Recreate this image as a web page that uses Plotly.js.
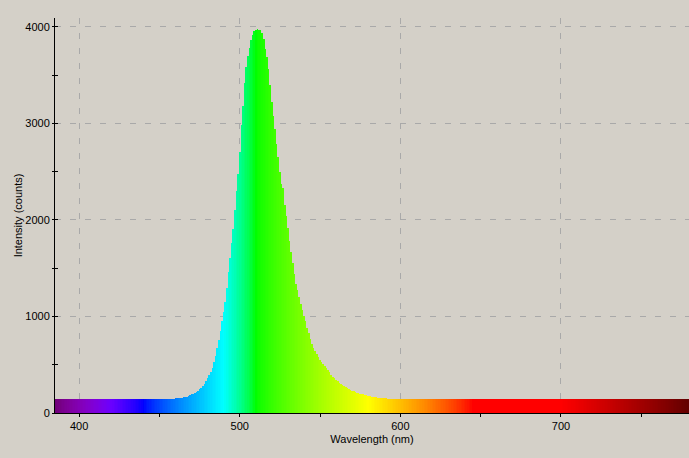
<!DOCTYPE html>
<html>
<head>
<meta charset="utf-8">
<script src="https://cdn.plot.ly/plotly-3.0.1.min.js"></script>
<style>
html,body{margin:0;padding:0;background:#d4d0c8;}
#chart{width:689px;height:458px;}
</style>
</head>
<body>
<div id="chart"></div>
<script>
// Spectrum sampled every 1 nm starting at 385 nm
var startNm = 385;
var stepNm = 1;
var counts = [
  // 385-394
  145,146,144,145,147,145,144,146,145,143,
  // 395-404
  146,145,147,144,145,146,145,143,146,145,
  // 405-414
  144,146,145,147,145,144,145,146,144,145,
  // 415-424
  146,145,144,146,145,147,145,144,146,145,
  // 425-434
  145,144,146,145,143,146,145,147,145,144,
  // 435-444
  146,145,144,145,147,145,146,144,145,146,
  // 445-454
  145,147,144,146,145,145,146,144,147,146,
  // 455-460
  147,148,148,149,150,151,
  // 461-470
  152,153,155,158,162,166,171,177,184,192,
  // 471-480
  201,210,219,230,244,260,281,305,333,362,
  // 481-490
  395,428,470,530,595,670,760,850,950,1050,
  // 491-500
  1150,1300,1460,1610,1760,1910,2100,2300,2480,2700,
  // 501-510
  2980,3180,3420,3590,3700,3780,3860,3920,3955,3970,
  // 511-520
  3975,3972,3968,3940,3880,3770,3690,3560,3400,3220,
  // 521-530
  3080,2940,2790,2650,2500,2370,2330,2160,2040,1920,
  // 531-540
  1780,1670,1550,1440,1340,1270,1200,1130,1070,1000,
  // 541-550
  950,880,830,770,720,670,640,615,580,550,
  // 551-560
  528,505,485,466,442,420,395,373,360,345,
  // 561-570
  328,315,302,290,278,265,255,246,238,230,
  // 571-580
  224,218,212,207,202,198,194,188,183,178,
  // 581-590
  174,170,167,164,162,160,158,156,154,152,
  // 591-600
  151,150,149,149,148,148,147,147,146,146,
  // 601-610
  145,146,145,144,146,145,147,145,144,146,
  // 611-620
  145,144,146,145,145,147,144,146,145,143,
  // 621-630
  146,145,144,147,145,146,145,144,146,145,
  // 631-640
  144,146,145,145,147,145,144,146,143,145,
  // 641-650
  146,145,144,146,145,147,145,144,145,146,
  // 651-660
  145,143,146,145,147,145,144,146,145,144,
  // 661-670
  146,145,145,147,144,146,145,143,146,145,
  // 671-680
  144,146,145,147,145,144,146,145,145,146,
  // 681-690
  145,147,144,146,145,143,146,145,144,146,
  // 691-700
  145,146,144,145,147,145,144,146,145,145,
  // 701-710
  146,144,145,147,145,143,146,145,144,146,
  // 711-720
  145,146,145,144,147,145,146,144,145,146,
  // 721-730
  144,145,147,145,146,143,145,146,144,145,
  // 731-740
  146,145,144,146,145,147,145,144,146,145,
  // 741-750
  145,143,146,145,147,144,146,145,145,144,
  // 751-760
  146,145,144,147,145,146,145,143,146,145,
  // 761-770
  144,146,145,145,147,145,144,146,145,146,
  // 771-780
  145,144,146,145,147,145,146,144,145,146
];

var xTickVals = [400, 500, 600, 700];
var yTickVals = [0, 1000, 2000, 3000, 4000];

var wavelengths = counts.map(function(_, i){ return startNm + i * stepNm; });

// Wavelength -> visible colour (style only)
function wlColor(w){
  var r, g, b;
  if (w < 440) { r = -(w - 440) / 60; g = 0; b = 1; }
  else if (w < 490) { r = 0; g = (w - 440) / 50; b = 1; }
  else if (w < 510) { r = 0; g = 1; b = -(w - 510) / 20; }
  else if (w < 580) { r = (w - 510) / 70; g = 1; b = 0; }
  else if (w < 645) { r = 1; g = -(w - 645) / 65; b = 0; }
  else { r = 1; g = 0; b = 0; }
  var f;
  if (w < 420) f = 0.3 + 0.7 * (w - 380) / 40;
  else if (w <= 700) f = 1;
  else f = 0.3 + 0.7 * (780 - w) / 80;
  function c(v){ return v <= 0 ? 0 : Math.round(255 * Math.pow(v * f, 0.8)); }
  return 'rgb(' + c(r) + ',' + c(g) + ',' + c(b) + ')';
}
var barColors = wavelengths.map(wlColor);

var traces = [
  {
    type: 'bar',
    x: wavelengths,
    y: counts,
    width: stepNm,
    marker: { color: barColors, line: { width: 0 } },
    hoverinfo: 'x+y'
  },
  {
    type: 'scatter',
    x: [null], y: [null],
    yaxis: 'y2',
    mode: 'markers',
    showlegend: false,
    hoverinfo: 'skip'
  }
];

var layout = {
  width: 689,
  height: 458,
  paper_bgcolor: '#d4d0c8',
  plot_bgcolor: '#d4d0c8',
  margin: { l: 55, r: 0, t: 18, b: 45 },
  bargap: 0,
  showlegend: false,
  font: { family: '"Liberation Sans", Arial, sans-serif', size: 11, color: '#000' },
  xaxis: {
    range: [385, 779.7],
    tickvals: xTickVals,
    ticktext: xTickVals.map(String),
    ticks: 'outside',
    ticklen: 3,
    tickcolor: '#000',
    tickwidth: 1,
    showline: true,
    linecolor: '#000',
    linewidth: 1,
    showgrid: true,
    gridcolor: '#a9a9a9',
    griddash: '6px,9px',
    gridwidth: 1,
    zeroline: false,
    minor: { tickvals: [450, 550, 650, 750], ticks: 'outside', ticklen: 3, tickcolor: '#000', showgrid: false },
    title: { text: 'Wavelength (nm)', font: { size: 11, color: '#000' }, standoff: 4 },
    fixedrange: true
  },
  yaxis: {
    range: [0, 4093],
    tickvals: yTickVals,
    ticktext: yTickVals.map(String),
    ticks: 'outside',
    ticklen: 2,
    tickcolor: '#000',
    tickwidth: 1,
    showline: true,
    linecolor: '#000',
    linewidth: 1,
    showgrid: true,
    gridcolor: '#a9a9a9',
    griddash: '6px,9px',
    gridwidth: 1,
    zeroline: false,
    minor: { tickvals: [500, 1500, 2500, 3500], ticks: 'outside', ticklen: 2, tickcolor: '#000', showgrid: false },
    title: { text: 'Intensity (counts)', font: { size: 11, color: '#000' }, standoff: 0 },
    fixedrange: true
  },
  yaxis2: {
    overlaying: 'y',
    anchor: 'x',
    side: 'left',
    range: [0, 4093],
    tickvals: yTickVals,
    ticks: 'inside',
    ticklen: 3,
    tickcolor: '#000',
    showticklabels: false,
    showgrid: false,
    zeroline: false,
    showline: false,
    minor: { tickvals: [500, 1500, 2500, 3500], ticks: 'inside', ticklen: 3, tickcolor: '#000', showgrid: false },
    fixedrange: true
  }
};

Plotly.newPlot('chart', traces, layout, { displayModeBar: false, staticPlot: true });
</script>
</body>
</html>
